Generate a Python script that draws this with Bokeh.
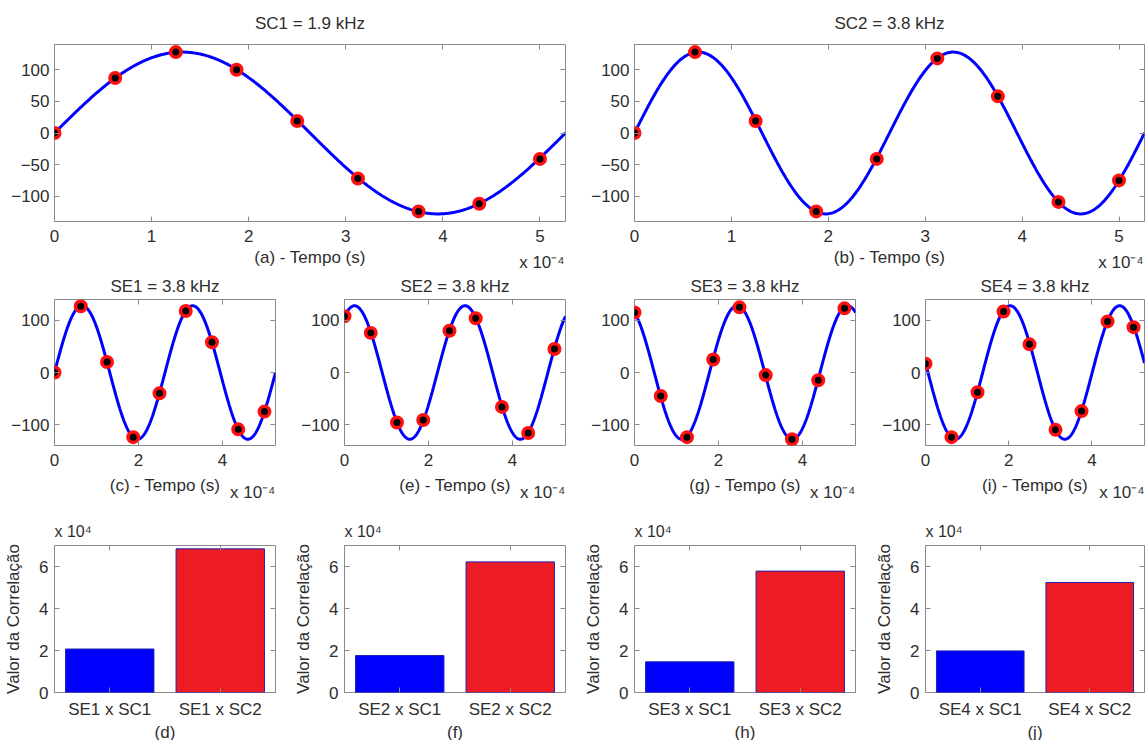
import numpy as np
from bokeh.plotting import figure
from bokeh.layouts import column, row
from bokeh.models import (Range1d, FixedTicker, LinearAxis, CategoricalAxis,
                          FactorRange, ColumnDataSource, CustomJSTickFormatter, AllLabels)
from bokeh.embed import file_html
from bokeh.resources import INLINE

FONT = "Liberation Sans"
TXT = "#2e2e2e"
AXC = "#8a8a8a"
FS = "17px"

# ---------------- data ----------------
# sample instants in units of 1e-4 s (fs = 16 kHz)
t_samples = [0.0, 0.625, 1.25, 1.875, 2.5, 3.125, 3.75, 4.375, 5.0]
t_end = 5.263            # one period of SC1 (1/1900 s), in 1e-4 s
x_ticks_top = [0, 1, 2, 3, 4, 5]
x_ticks_mid = [0, 2, 4]
y_ticks_top = [-100, -50, 0, 50, 100]
y_ticks_mid = [-100, 0, 100]
y_ticks_bar = [0, 2, 4, 6]

signal_names = ["SC1", "SC2", "SE1", "SE2", "SE3", "SE4"]
signal_freq_khz = [1.9, 3.8, 3.8, 3.8, 3.8, 3.8]
signal_amp = [128, 128, 128, 128, 128, 128]
signal_phase_rad = [0.0, 0.0, 0.0, 1.0, 2.02, 3.0]

sc1_samples = [0, 87, 128, 100, 19, -72, -124, -112, -41]
sc2_samples = [0, 128, 19, -124, -41, 118, 58, -109, -75]
se1_samples = [0, 127, 20, -124, -40, 118, 58, -109, -75]
se2_samples = [108, 76, -96, -91, 80, 104, -66, -116, 45]
se3_samples = [115, -45, -124, 25, 125, -5, -128, -15, 123]
se4_samples = [17, -124, -38, 117, 54, -110, -74, 98, 87]

bar_cats_se1 = ["SE1 x SC1", "SE1 x SC2"]
bar_cats_se2 = ["SE2 x SC1", "SE2 x SC2"]
bar_cats_se3 = ["SE3 x SC1", "SE3 x SC2"]
bar_cats_se4 = ["SE4 x SC1", "SE4 x SC2"]
corr_se1 = [2.07, 6.84]   # x 10^4
corr_se2 = [1.76, 6.22]
corr_se3 = [1.46, 5.78]
corr_se4 = [1.98, 5.24]
bar_colors = ["#0000FF", "#ED1C24"]

time_multiplier = "x 10\u207b\u2074"
corr_multiplier = "x 10\u2074"


# ---------------- helpers ----------------
def style_axis(ax, show=True, label_standoff=5, axis_standoff=5):
    ax.major_tick_in = 5
    ax.major_tick_out = 0
    ax.minor_tick_line_color = None
    ax.axis_line_color = None
    ax.major_tick_line_color = AXC
    ax.major_label_text_font = FONT
    ax.axis_label_text_font = FONT
    ax.axis_label_text_font_size = FS
    ax.axis_label_text_font_style = "normal"
    ax.axis_label_text_color = TXT
    ax.axis_label_standoff = axis_standoff
    if show:
        ax.major_label_text_color = TXT
        ax.major_label_text_font_size = FS
        ax.major_label_standoff = label_standoff
    else:
        ax.major_label_text_color = None
        ax.major_label_text_font_size = "0px"
        ax.major_label_standoff = 0


def base_fig(fw, fh, borders, x_range, y_range):
    l, r, t, b = borders
    p = figure(frame_width=fw, frame_height=fh,
               min_border_left=l, min_border_right=r,
               min_border_top=t, min_border_bottom=b,
               x_range=x_range, y_range=y_range,
               output_backend="svg", toolbar_location=None,
               outline_line_color=AXC, background_fill_color="white",
               border_fill_color="white")
    p.xgrid.grid_line_color = None
    p.ygrid.grid_line_color = None
    return p


def set_title(p, text, standoff, align="center", size=FS):
    p.title.text = text
    p.title.text_font = FONT
    p.title.text_font_size = size
    p.title.text_font_style = "normal"
    p.title.text_color = TXT
    p.title.align = align
    p.title.vertical_align = "top"
    p.title.standoff = standoff


def mult_axis(p, xpos, standoff):
    ax = LinearAxis(ticker=FixedTicker(ticks=[xpos]),
                    formatter=CustomJSTickFormatter(code="return '%s';" % time_multiplier))
    ax.major_tick_line_color = None
    ax.minor_tick_line_color = None
    ax.axis_line_color = None
    ax.major_tick_in = 0
    ax.major_tick_out = 0
    ax.major_label_standoff = standoff
    ax.major_label_text_font = FONT
    ax.major_label_text_font_size = "17px"
    ax.major_label_text_color = TXT
    ax.major_label_policy = AllLabels()
    p.add_layout(ax, "below")


def wave_fig(title, xlabel, samples, sig_i, fw, fh, borders, xticks, yticks,
             title_standoff, xl_standoff, mult_x, mult_standoff):
    p = base_fig(fw, fh, borders, Range1d(0, t_end), Range1d(-140, 140))
    set_title(p, title, title_standoff)
    tc = np.linspace(0, t_end, 600)
    yc = signal_amp[sig_i] * np.sin(2 * np.pi * signal_freq_khz[sig_i] * tc * 0.1
                                    + signal_phase_rad[sig_i])
    p.line(tc, yc, line_color="#0000FF", line_width=3)
    p.scatter(t_samples, samples, size=10.5, fill_color="black",
              line_color="#FF1010", line_width=3.5)
    p.xaxis.ticker = FixedTicker(ticks=xticks)
    p.yaxis.ticker = FixedTicker(ticks=yticks)
    p.xaxis.axis_label = xlabel
    style_axis(p.xaxis[0], True, 8, xl_standoff)
    style_axis(p.yaxis[0], True, 5)
    ax_r = LinearAxis(ticker=FixedTicker(ticks=yticks))
    style_axis(ax_r, False)
    p.add_layout(ax_r, "right")
    ax_t = LinearAxis(ticker=FixedTicker(ticks=xticks))
    style_axis(ax_t, False)
    p.add_layout(ax_t, "above")
    mult_axis(p, mult_x, mult_standoff)
    return p


def bar_fig(cats, vals, xlabel, fw, fh, borders):
    p = base_fig(fw, fh, borders, FactorRange(factors=cats, range_padding=0),
                 Range1d(0, 7))
    set_title(p, corr_multiplier, 8, "left", "16px")
    src = ColumnDataSource(dict(cat=cats, val=vals, color=bar_colors))
    p.vbar(x="cat", top="val", width=0.8, fill_color="color",
           line_color="#2020b0", line_width=1, source=src)
    p.yaxis.ticker = FixedTicker(ticks=y_ticks_bar)
    p.xaxis.axis_label = xlabel
    p.yaxis.axis_label = "Valor da Correlação"
    style_axis(p.xaxis[0], True, 7, 1)
    style_axis(p.yaxis[0], True, 6, 13)
    ax_r = LinearAxis(ticker=FixedTicker(ticks=y_ticks_bar))
    style_axis(ax_r, False)
    p.add_layout(ax_r, "right")
    ax_t = CategoricalAxis()
    style_axis(ax_t, False)
    p.add_layout(ax_t, "above")
    return p


# ---------------- layout ----------------
pa = wave_fig("SC1 = 1.9 kHz", "(a) - Tempo (s)", sc1_samples, 0, 511, 177,
              (54, 21, 44, 50), x_ticks_top, y_ticks_top, 20, 3, 5.02, -17)
pb = wave_fig("SC2 = 3.8 kHz", "(b) - Tempo (s)", sc2_samples, 1, 510, 177,
              (48, 2, 44, 50), x_ticks_top, y_ticks_top, 20, 3, 5.02, -17)

mid_borders = [(54, 10), (59, 10), (59, 11), (59, 2)]
mid_w = [221, 221, 221, 219]
mid_specs = [("SE1 = 3.8 kHz", "(c) - Tempo (s)", se1_samples, 2),
             ("SE2 = 3.8 kHz", "(e) - Tempo (s)", se2_samples, 3),
             ("SE3 = 3.8 kHz", "(g) - Tempo (s)", se3_samples, 4),
             ("SE4 = 3.8 kHz", "(i) - Tempo (s)", se4_samples, 5)]
mids = []
for (ttl, xl, s, i), (l, r), w in zip(mid_specs, mid_borders, mid_w):
    mids.append(wave_fig(ttl, xl, s, i, w, 146, (l, r, 25, 58),
                         x_ticks_mid, y_ticks_mid, 4, 7, 4.72, -15))

bot_borders = [(54, 5), (64, 5), (64, 6), (64, 2)]
bot_specs = [(bar_cats_se1, corr_se1, "(d)"), (bar_cats_se2, corr_se2, "(f)"),
             (bar_cats_se3, corr_se3, "(h)"), (bar_cats_se4, corr_se4, "(j)")]
bots = []
for (c, v, xl), (l, r), w in zip(bot_specs, bot_borders, mid_w):
    bots.append(bar_fig(c, v, xl, w, 147, (l, r, 41, 47)))

layout = column(row(pa, pb), row(*mids), row(*bots))

open("out.html", "w").write(file_html(layout, INLINE))
